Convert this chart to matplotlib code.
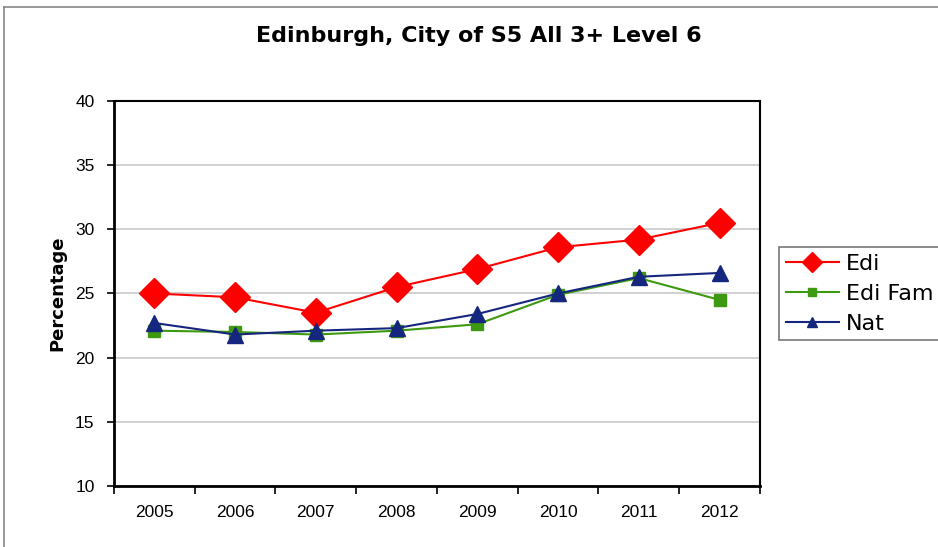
import matplotlib
matplotlib.use("Agg")
import matplotlib.pyplot as plt
from matplotlib.lines import Line2D

# values
years = ["2005", "2006", "2007", "2008", "2009", "2010", "2011", "2012"]
edi = [25.0, 24.7, 23.5, 25.5, 26.9, 28.6, 29.2, 30.5]
edi_fam = [22.1, 22.0, 21.8, 22.1, 22.6, 24.9, 26.2, 24.5]
nat = [22.7, 21.8, 22.1, 22.3, 23.4, 25.0, 26.3, 26.6]

fig = plt.figure(figsize=(9.38, 5.47), dpi=100)
ax = fig.add_axes([0.1215, 0.1115, 0.6887, 0.704])

x = list(range(len(years)))
ax.plot(x, edi, color="#ff0000", lw=1.5, marker="D", markersize=15,
        label="Edi", zorder=3)
ax.plot(x, edi_fam, color="#3d9a10", lw=1.5, marker="s", markersize=9,
        label="Edi Fam", zorder=4)
ax.plot(x, nat, color="#15267f", lw=1.5, marker="^", markersize=11,
        label="Nat", zorder=5)

ax.set_xlim(-0.5, len(years) - 0.5)
ax.set_ylim(10, 40)
ax.set_yticks(range(10, 41, 5))
ax.set_xticks(x)
ax.set_xticklabels(years, family="Liberation Sans", fontsize=12.5)
ax.set_xticks([i - 0.5 for i in range(len(years) + 1)], minor=True)
ax.tick_params(axis="x", which="major", length=0, pad=14)
ax.tick_params(axis="x", which="minor", length=6, width=1.2)
ax.tick_params(axis="y", length=5, width=1.2, pad=9)
for lbl in ax.get_yticklabels():
    lbl.set_family("Liberation Sans")
    lbl.set_fontsize(12.5)

ax.grid(axis="y", color="#c8c8c8", lw=1.2)
ax.set_axisbelow(True)
for side in ["left", "bottom"]:
    ax.spines[side].set_linewidth(2)
for side in ["top", "right"]:
    ax.spines[side].set_linewidth(1.5)

ax.set_ylabel("Percentage", fontweight="bold", fontsize=13, labelpad=6)
fig.text(0.51, 0.935, "Edinburgh, City of S5 All 3+ Level 6",
         ha="center", va="center", fontsize=16, fontweight="bold")

leg = ax.legend(loc="lower left", bbox_to_anchor=(0.8305, 0.378),
                bbox_transform=fig.transFigure, borderaxespad=0,
                fancybox=False, edgecolor="#555555", fontsize=16,
                handlelength=2.4, handletextpad=0.3, borderpad=0.3,
                labelspacing=0.45, markerscale=0.7)
leg.get_frame().set_linewidth(1.2)

# outer chart border (only top/left visible in the reference)
fig.add_artist(Line2D([4 / 938, 4 / 938], [0, 1 - 7 / 547],
                      transform=fig.transFigure, color="#888888", lw=1.2))
fig.add_artist(Line2D([4 / 938, 1], [1 - 7 / 547, 1 - 7 / 547],
                      transform=fig.transFigure, color="#888888", lw=1.2))

fig.savefig("out.png", dpi=100)
